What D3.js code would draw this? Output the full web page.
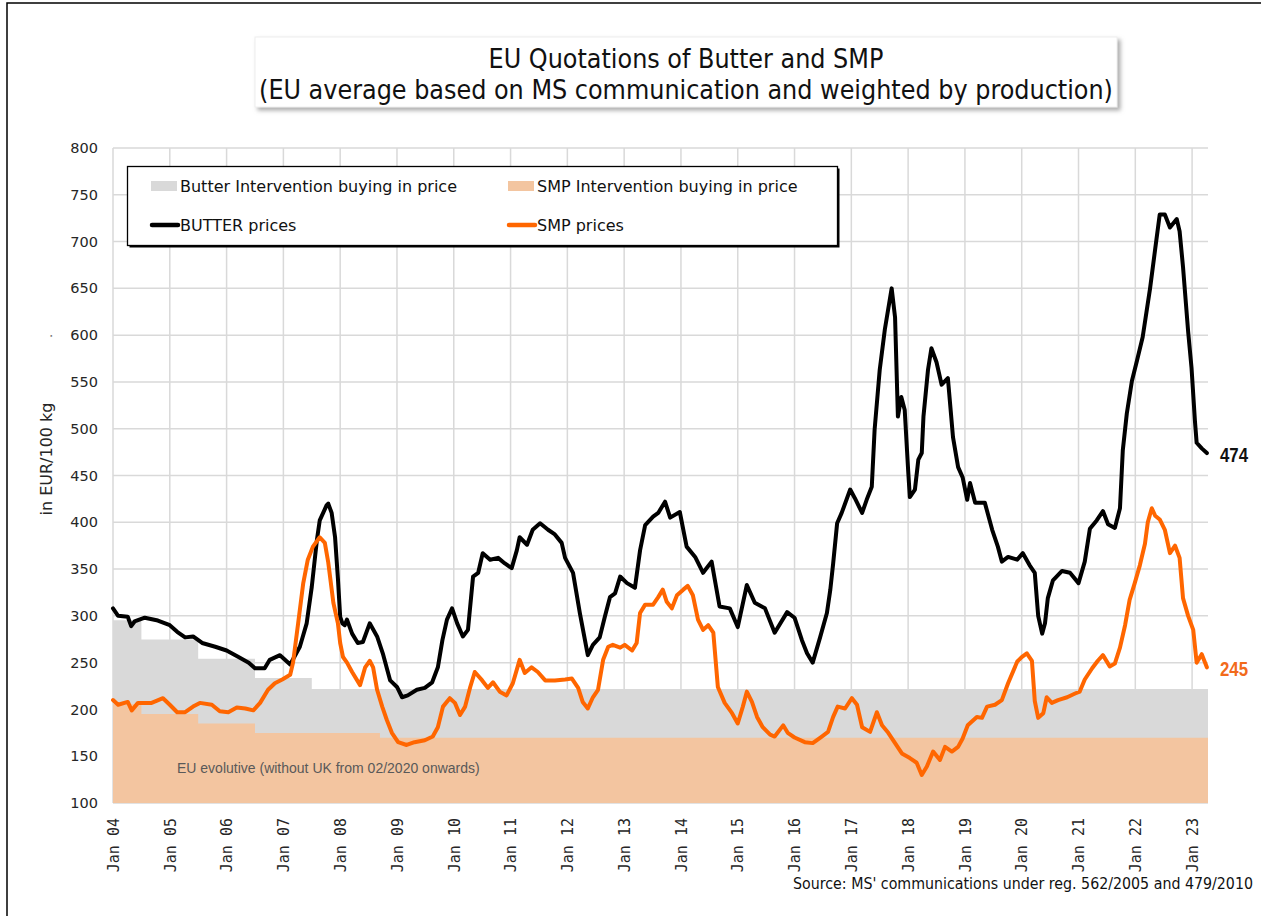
<!DOCTYPE html>
<html><head><meta charset="utf-8">
<script src="https://cdn.jsdelivr.net/npm/d3@7"></script>
<style>
body{margin:0;background:#fff;}
svg{display:block;}
</style></head><body>
<svg id="chart" width="1261" height="916"></svg>
<script>
// ---------- DATA ----------
const titleLines = ["EU Quotations of Butter and SMP", "(EU average based on MS communication and weighted by production)"];
const yearTicks = d3.range(2004, 2024);          // Jan 04 ... Jan 23
const yTicks = d3.range(100, 801, 50);           // 100 ... 800
const legendLabels = ["Butter Intervention buying in price", "SMP Intervention buying in price", "BUTTER prices", "SMP prices"];

// intervention buying-in prices (step start, EUR/100 kg)
const butterIntervention = [[2004.0,295.38],[2004.5,274.71],[2005.5,254.2],[2006.5,233.57],[2007.5,221.75]];
const smpIntervention = [[2004.0,205.52],[2004.5,195.24],[2005.5,184.97],[2006.5,174.69],[2008.7,169.8]];

// market prices [decimal year, EUR/100 kg]
const butterPrices = [[2004.00,308],[2004.09,300],[2004.26,299],[2004.32,289],[2004.38,294],[2004.56,298],[2004.79,295],[2005.00,290],[2005.13,283],[2005.27,277],[2005.41,278],[2005.57,271],[2005.80,267],[2006.00,263],[2006.21,256],[2006.39,250],[2006.50,244],[2006.67,244],[2006.76,253],[2006.94,258],[2007.12,248],[2007.29,267],[2007.41,292],[2007.50,331],[2007.59,381],[2007.64,402],[2007.76,418],[2007.79,420],[2007.85,410],[2007.91,384],[2007.96,340],[2008.00,299],[2008.04,292],[2008.08,290],[2008.12,296],[2008.21,281],[2008.31,271],[2008.40,272],[2008.52,292],[2008.65,278],[2008.75,260],[2008.88,231],[2009.00,224],[2009.09,213],[2009.19,215],[2009.35,221],[2009.49,223],[2009.62,229],[2009.72,245],[2009.80,274],[2009.88,296],[2009.97,308],[2010.06,292],[2010.16,278],[2010.25,285],[2010.34,342],[2010.43,346],[2010.51,367],[2010.64,360],[2010.78,362],[2010.90,356],[2011.02,351],[2011.11,370],[2011.16,384],[2011.29,376],[2011.39,392],[2011.52,399],[2011.66,392],[2011.78,387],[2011.90,378],[2011.96,362],[2012.10,346],[2012.22,303],[2012.36,258],[2012.45,269],[2012.57,277],[2012.66,299],[2012.75,320],[2012.84,324],[2012.93,342],[2013.05,335],[2013.19,330],[2013.28,370],[2013.37,397],[2013.51,406],[2013.60,410],[2013.72,422],[2013.81,405],[2013.98,411],[2014.10,374],[2014.25,363],[2014.39,346],[2014.54,358],[2014.68,310],[2014.86,308],[2015.00,288],[2015.16,333],[2015.30,314],[2015.48,308],[2015.65,282],[2015.87,304],[2016.00,298],[2016.13,274],[2016.22,260],[2016.32,250],[2016.45,277],[2016.57,303],[2016.63,328],[2016.68,356],[2016.75,399],[2016.83,410],[2016.98,435],[2017.06,426],[2017.19,410],[2017.27,424],[2017.36,438],[2017.41,499],[2017.50,563],[2017.59,606],[2017.71,650],[2017.77,619],[2017.82,513],[2017.88,534],[2017.94,520],[2018.00,456],[2018.03,427],[2018.12,435],[2018.18,467],[2018.24,474],[2018.27,513],[2018.35,563],[2018.41,586],[2018.50,571],[2018.59,547],[2018.70,554],[2018.79,491],[2018.88,459],[2018.96,448],[2019.04,424],[2019.09,442],[2019.18,421],[2019.35,421],[2019.48,392],[2019.58,374],[2019.65,358],[2019.76,363],[2019.92,360],[2020.02,367],[2020.14,354],[2020.23,346],[2020.29,300],[2020.36,281],[2020.41,292],[2020.46,319],[2020.55,338],[2020.71,348],[2020.85,346],[2021.00,335],[2021.11,358],[2021.20,393],[2021.32,402],[2021.43,412],[2021.52,398],[2021.64,394],[2021.73,415],[2021.78,477],[2021.85,516],[2021.94,551],[2022.03,573],[2022.13,598],[2022.26,650],[2022.35,692],[2022.43,729],[2022.52,729],[2022.61,715],[2022.73,724],[2022.78,711],[2022.84,673],[2022.93,604],[2022.99,565],[2023.05,508],[2023.08,485],[2023.17,479],[2023.26,474]];

const smpPrices = [[2004.00,210],[2004.09,205],[2004.26,208],[2004.33,199],[2004.44,207],[2004.68,207],[2004.88,212],[2005.00,205],[2005.13,197],[2005.27,197],[2005.41,203],[2005.53,207],[2005.74,205],[2005.88,198],[2006.03,197],[2006.18,202],[2006.33,201],[2006.47,199],[2006.59,207],[2006.73,221],[2006.85,228],[2006.98,232],[2007.12,237],[2007.17,250],[2007.26,292],[2007.35,335],[2007.43,360],[2007.52,374],[2007.64,384],[2007.73,378],[2007.79,357],[2007.88,314],[2007.96,292],[2008.00,271],[2008.05,256],[2008.12,250],[2008.21,240],[2008.35,226],[2008.44,245],[2008.52,252],[2008.58,245],[2008.65,221],[2008.74,203],[2008.82,189],[2008.91,175],[2009.02,165],[2009.17,162],[2009.31,165],[2009.49,167],[2009.63,171],[2009.72,181],[2009.81,203],[2009.93,212],[2010.02,207],[2010.11,194],[2010.20,203],[2010.29,224],[2010.37,240],[2010.50,231],[2010.60,223],[2010.69,229],[2010.81,219],[2010.93,215],[2011.04,228],[2011.16,253],[2011.25,239],[2011.37,245],[2011.48,240],[2011.61,231],[2011.78,231],[2011.96,232],[2012.08,233],[2012.19,223],[2012.27,208],[2012.36,201],[2012.45,213],[2012.54,221],[2012.63,253],[2012.72,267],[2012.80,269],[2012.93,266],[2013.01,269],[2013.14,263],[2013.22,271],[2013.28,303],[2013.37,312],[2013.51,312],[2013.60,320],[2013.68,328],[2013.75,315],[2013.84,308],[2013.93,322],[2014.04,328],[2014.12,332],[2014.21,322],[2014.30,296],[2014.39,285],[2014.48,290],[2014.57,282],[2014.65,224],[2014.77,207],[2014.90,196],[2015.00,185],[2015.09,203],[2015.16,219],[2015.25,208],[2015.34,192],[2015.44,181],[2015.57,173],[2015.65,171],[2015.80,183],[2015.88,175],[2016.00,170],[2016.18,165],[2016.32,164],[2016.48,171],[2016.59,176],[2016.68,192],[2016.76,203],[2016.89,201],[2017.01,212],[2017.10,205],[2017.19,181],[2017.33,176],[2017.45,197],[2017.54,183],[2017.65,175],[2017.77,164],[2017.89,153],[2018.03,148],[2018.15,143],[2018.24,130],[2018.33,139],[2018.44,155],[2018.56,146],[2018.65,160],[2018.77,155],[2018.88,160],[2018.96,169],[2019.05,183],[2019.21,192],[2019.30,191],[2019.39,203],[2019.53,205],[2019.65,210],[2019.76,228],[2019.92,251],[2020.00,256],[2020.09,260],[2020.18,252],[2020.23,209],[2020.29,191],[2020.38,196],[2020.44,213],[2020.53,207],[2020.64,210],[2020.80,213],[2020.94,217],[2021.02,219],[2021.11,232],[2021.24,244],[2021.34,252],[2021.43,258],[2021.55,246],[2021.64,249],[2021.73,266],[2021.82,290],[2021.90,317],[2021.99,335],[2022.08,354],[2022.17,377],[2022.22,400],[2022.29,415],[2022.35,407],[2022.43,403],[2022.52,392],[2022.61,367],[2022.70,375],[2022.78,362],[2022.84,319],[2022.93,300],[2023.02,285],[2023.08,250],[2023.17,259],[2023.26,245]];

const lastButter = 474, lastSmp = 245;   // latest quotations shown at line ends
const areaNote = "EU evolutive (without UK from 02/2020 onwards)";
const yAxisTitle = "in EUR/100 kg";
const sourceNote = "Source: MS' communications under reg. 562/2005 and 479/2010";

// ---------- CHART ----------
const svg = d3.select("#chart");
const COND = "'DejaVu Sans Condensed','DejaVu Sans',sans-serif";
const SANS = "'DejaVu Sans',Verdana,sans-serif";
const x = d3.scaleLinear().domain([2004, 2023.28]).range([113, 1208]);
const y = d3.scaleLinear().domain([100, 800]).range([803, 148]);
const [x0, x1] = x.range();

const defs = svg.append("defs");
const f = defs.append("filter").attr("id","shadow").attr("x","-5%").attr("y","-20%").attr("width","110%").attr("height","150%");
f.append("feDropShadow").attr("dx",3).attr("dy",3).attr("stdDeviation",2).attr("flood-color","#888").attr("flood-opacity",0.7);

// outer frame
svg.append("path").attr("d","M7,916 L7,3 L1261,3").attr("fill","none").attr("stroke","#000").attr("stroke-width",1.5);

// title box
svg.append("rect").attr("x",255).attr("y",37).attr("width",862).attr("height",70)
  .attr("fill","#fff").attr("stroke","#eee").attr("stroke-width",1).attr("filter","url(#shadow)");
svg.append("g").selectAll("text").data(titleLines).join("text")
  .attr("x",686).attr("y",(d,i)=>68+i*31).attr("text-anchor","middle")
  .attr("font-family",COND).attr("font-size",26.6).attr("fill","#111").text(d=>d);

// grid
const grid = svg.append("g");
grid.selectAll("line.h").data(yTicks).join("line")
  .attr("x1",x0).attr("x2",x1).attr("y1",d=>y(d)).attr("y2",d=>y(d))
  .attr("stroke","#d9d9d9").attr("stroke-width",1.5);
grid.selectAll("line.v").data(yearTicks).join("line")
  .attr("x1",d=>x(d)).attr("x2",d=>x(d)).attr("y1",y(800)).attr("y2",y(100))
  .attr("stroke","#d9d9d9").attr("stroke-width",1.5);

// intervention areas
const stepData = arr => arr.concat([[x.domain()[1], arr[arr.length-1][1]]]);
const area = d3.area().curve(d3.curveStepAfter).x(d=>x(d[0])).y0(y(100)).y1(d=>y(d[1]));
svg.append("path").datum(stepData(butterIntervention)).attr("d",area).attr("fill","#d9d9d9");
svg.append("path").datum(stepData(smpIntervention)).attr("d",area).attr("fill","#f3c5a0");

svg.append("text").attr("x",177).attr("y",773).attr("font-family","'Liberation Sans',Arial,sans-serif")
  .attr("font-size",14).attr("fill","#595959").text(areaNote);

// price lines
const line = d3.line().x(d=>x(d[0])).y(d=>y(d[1]));
svg.append("path").datum(butterPrices).attr("d",line).attr("fill","none").attr("stroke","#000")
  .attr("stroke-width",4).attr("stroke-linejoin","round").attr("stroke-linecap","round");
svg.append("path").datum(smpPrices).attr("d",line).attr("fill","none").attr("stroke","#ff6600")
  .attr("stroke-width",4).attr("stroke-linejoin","round").attr("stroke-linecap","round");

// end labels (narrow bold)
const endLabel = (v, color) => svg.append("text")
  .attr("transform", `translate(1220,${y(v)+9}) scale(0.8,1)`)
  .attr("font-family","'Liberation Sans',Arial,sans-serif").attr("font-weight","bold")
  .attr("font-size",21).attr("fill",color).text(v);
endLabel(lastButter, "#111");
endLabel(lastSmp, "#f26a1b");

// y axis labels
const yAxis = d3.axisLeft(y).tickValues(yTicks).tickSize(0).tickPadding(0).tickFormat(d3.format("d"));
const ya = svg.append("g").attr("transform","translate(98,0)").call(yAxis);
ya.select(".domain").remove();
ya.selectAll("text").attr("font-family",SANS).attr("font-size",14.5).attr("fill","#262626");

// x axis labels
const xAxis = d3.axisBottom(x).tickValues(yearTicks).tickSize(0).tickPadding(0)
  .tickFormat(d => "Jan " + String(d % 100).padStart(2,"0"));
const xa = svg.append("g").attr("transform","translate(0,818)").call(xAxis);
xa.select(".domain").remove();
xa.selectAll("text").attr("font-family","'DejaVu Sans Mono',monospace").attr("font-size",15).attr("fill","#262626")
  .attr("text-anchor","end").attr("transform","rotate(-90)").attr("x",0).attr("y",0).attr("dy","0.35em");

// y axis title
svg.append("text").attr("transform","translate(52,459) rotate(-90)").attr("text-anchor","middle")
  .attr("font-family",SANS).attr("font-size",16).attr("fill","#262626").text(yAxisTitle);
svg.append("text").attr("transform","translate(52,336) rotate(-90)").attr("text-anchor","middle")
  .attr("font-family",SANS).attr("font-size",13).attr("fill","#555").text(".");

// legend
const lg = svg.append("g");
lg.append("rect").attr("x",129.5).attr("y",168.5).attr("width",710).attr("height",79).attr("fill","#000");
lg.append("rect").attr("x",127.5).attr("y",166.5).attr("width",710).attr("height",79).attr("fill","#fff").attr("stroke","#000").attr("stroke-width",1.3);
const items = [
  {label:legendLabels[0], type:"rect", color:"#d9d9d9", lx:151, ly:186},
  {label:legendLabels[1], type:"rect", color:"#f3c5a0", lx:508, ly:186},
  {label:legendLabels[2], type:"line", color:"#000", lx:151, ly:225},
  {label:legendLabels[3], type:"line", color:"#ff6600", lx:508, ly:225}
];
items.forEach(it => {
  if (it.type === "rect") lg.append("rect").attr("x",it.lx).attr("y",it.ly-5).attr("width",26).attr("height",10).attr("fill",it.color);
  else lg.append("line").attr("x1",it.lx+1).attr("x2",it.lx+27).attr("y1",it.ly).attr("y2",it.ly).attr("stroke",it.color).attr("stroke-width",4.5).attr("stroke-linecap","round");
  lg.append("text").attr("x",it.lx+29).attr("y",it.ly+6).attr("font-family",SANS).attr("font-size",16).attr("fill","#111").text(it.label);
});

// source
svg.append("text").attr("x",1253).attr("y",889).attr("text-anchor","end").attr("font-family",COND)
  .attr("font-size",15.8).attr("fill","#111").text(sourceNote);
</script>
</body></html>
